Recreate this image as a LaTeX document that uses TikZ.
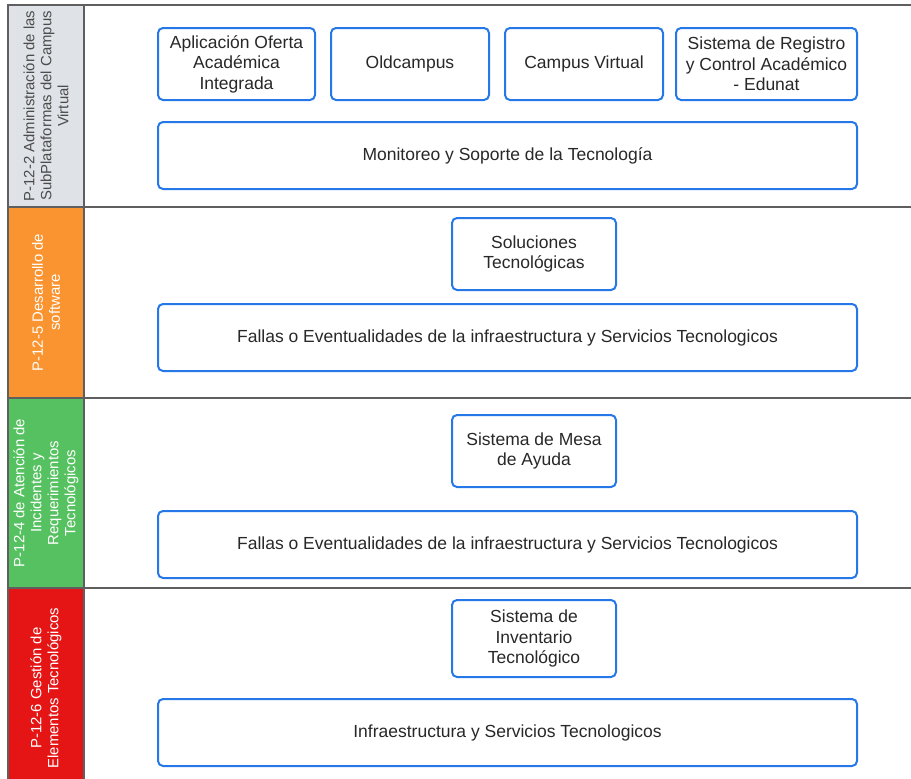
\documentclass[tikz,border=0pt]{standalone}
\usepackage{fontspec}
\setmainfont{Liberation Sans}
\begin{document}
\definecolor{laneline}{RGB}{95,95,95}
\definecolor{boxblue}{RGB}{38,120,232}
\definecolor{txt}{RGB}{40,40,40}
\definecolor{lanegray}{RGB}{223,226,231}
\definecolor{laneorange}{RGB}{250,148,48}
\definecolor{lanegreen}{RGB}{86,193,96}
\definecolor{lanered}{RGB}{229,21,21}
\begin{tikzpicture}[x=1pt,y=-1pt,
  item/.style={draw=boxblue, line width=2pt, rounded corners=5pt, fill=white,
    align=center, text=txt, inner sep=2pt,
    font=\fontsize{17.5}{20.5}\selectfont},
  lanehead/.style={draw=laneline, line width=1.6pt, rotate=90, align=center,
    minimum height=76pt, inner sep=0pt, anchor=center,
    font=\fontsize{14.9}{17}\selectfont},
  lanesep/.style={draw=laneline, line width=1.6pt}]
\useasboundingbox (0,0) rectangle (911,779);
\clip (0,0) rectangle (911,779);

% swimlane headers (rotated)
\node[lanehead, fill=lanegray, text=black!70, minimum width=202pt] (lane1) at (46,106)
  {P-12-2 Administración de las\\SubPlataformas del Campus\\Virtual};
\node[lanehead, fill=laneorange, text=white, minimum width=191pt] (lane2) at (46,302.5)
  {P-12-5 Desarrollo de\\software};
\node[lanehead, fill=lanegreen, text=white, minimum width=190pt] (lane3) at (46,493)
  {P-12-4 de Atención de\\Incidentes y\\Requerimientos\\Tecnológicos};
\node[lanehead, fill=lanered, text=white, minimum width=200pt] (lane4) at (46,688)
  {P-12-6 Gestión de\\Elementos Tecnológicos};

% swimlane separators, running off the right edge
\coordinate (r0) at (920,5);
\coordinate (r1) at (920,207);
\coordinate (r2) at (920,398);
\coordinate (r3) at (920,588);
\draw[lanesep] (8,5) -- (r0);
\draw[lanesep] (84,207) -- (r1);
\draw[lanesep] (84,398) -- (r2);
\draw[lanesep] (84,588) -- (r3);

% lane 1
\node[item, minimum width=157pt, minimum height=72pt] (aoai) at (236.5,64)
  {Aplicación Oferta\\Académica\\Integrada};
\node[item, minimum width=158pt, minimum height=72pt] (oldc) at (410,64) {Oldcampus};
\node[item, minimum width=158pt, minimum height=72pt] (cvir) at (584,64) {Campus Virtual};
\node[item, minimum width=181pt, minimum height=72pt] (srca) at (766.5,64)
  {Sistema de Registro\\y Control Académico\\- Edunat};
\node[item, minimum width=699pt, minimum height=67pt] (mst) at (507.5,155.5)
  {Monitoreo y Soporte de la Tecnología};

% lane 2
\node[item, minimum width=164pt, minimum height=72pt] (stec) at (534,254)
  {Soluciones\\Tecnológicas};
\node[item, minimum width=699pt, minimum height=67pt] (fall1) at (507.5,337.5)
  {Fallas o Eventualidades de la infraestructura y Servicios Tecnologicos};

% lane 3
\node[item, minimum width=164pt, minimum height=72pt] (smay) at (534,451)
  {Sistema de Mesa\\de Ayuda};
\node[item, minimum width=699pt, minimum height=67pt] (fall2) at (507.5,544.5)
  {Fallas o Eventualidades de la infraestructura y Servicios Tecnologicos};

% lane 4
\node[item, minimum width=164pt, minimum height=77pt] (sinv) at (534,638.5)
  {Sistema de\\Inventario\\Tecnológico};
\node[item, minimum width=699pt, minimum height=67pt] (infra) at (507.5,732.5)
  {Infraestructura y Servicios Tecnologicos};
\end{tikzpicture}
\end{document}
